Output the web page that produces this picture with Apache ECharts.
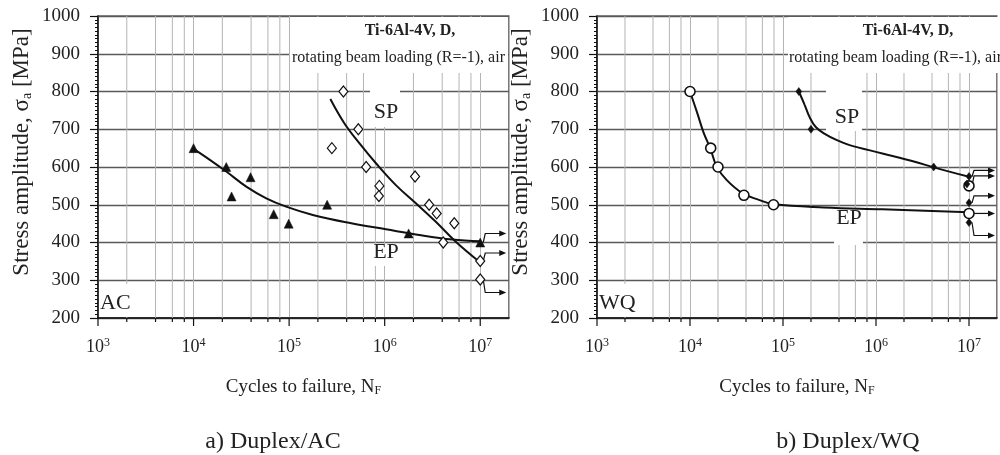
<!DOCTYPE html>
<html><head><meta charset="utf-8">
<script src="https://cdn.jsdelivr.net/npm/echarts@6/dist/echarts.min.js"></script>
<style>html,body{margin:0;padding:0;background:#fff}#c{width:1000px;height:455px}</style>
</head><body><div id="c"></div>
<script>
// ---------- data ----------
// a) Duplex/AC
const acEpN = [1e4, 2.2e4, 2.5e4, 3.95e4, 6.9e4, 9.9e4, 2.5e5, 1.78e6, 1e7];
const acEpS = [650, 600, 522, 573, 475, 450, 500, 424, 400];
const acSpN = [2.8e5, 3.7e5, 5.3e5, 6.4e5, 8.8e5, 8.7e5, 2.08e6, 2.92e6, 3.5e6, 5.35e6, 4.1e6, 1e7, 1e7];
const acSpS = [650, 800, 700, 600, 550, 523, 575, 500, 477, 451, 400, 351, 302];
const acEpFitN = [1e4, 1.48e4, 2.2e4, 3.56e4, 5.77e4, 9.3e4, 1.77e5, 4.47e5, 1.03e6, 2.3e6, 5.1e6, 1e7];
const acEpFitS = [648, 619, 588, 548, 517, 495, 473, 451, 435, 420, 408, 403];
const acSpFitN = [2.7e5, 3.78e5, 5.43e5, 8.1e5, 1.31e6, 2.12e6, 3.43e6, 5.55e6, 1e7];
const acSpFitS = [780, 716, 663, 610, 552, 504, 455, 402, 347];
const acRunoutN = [1e7, 1e7, 1e7];
const acRunoutS = [400, 351, 302];
// b) Duplex/WQ
const wqEpN = [1e4, 1.67e4, 2.0e4, 3.8e4, 7.9e4, 1e7, 1e7];
const wqEpS = [800, 650, 600, 525, 500, 477, 550];
const wqSpN = [1.48e5, 2.0e5, 4.17e6, 1e7, 9.5e6, 1e7, 1e7];
const wqSpS = [800, 700, 600, 575, 555, 505, 453];
const wqEpFitN = [1e4, 1.2e4, 1.41e4, 1.65e4, 1.94e4, 2.47e4, 3.7e4, 5.5e4, 7.9e4, 2.75e5, 1.17e6, 1e7];
const wqEpFitS = [800, 742, 689, 650, 601, 566, 530, 513, 502, 493, 488, 480];
const wqSpFitN = [1.48e5, 1.7e5, 1.95e5, 2.25e5, 2.75e5, 3.8e5, 5.2e5, 1.17e6, 2.61e6, 4.17e6, 1e7];
const wqSpFitS = [800, 766, 730, 706, 689, 671, 658, 636, 614, 599, 574];
const wqRunoutN = [1e7, 1e7, 1e7, 1e7, 1e7];
const wqRunoutS = [575, 550, 505, 477, 453];
// axes
const xMin = 1e3, xMax = 2e7;
const yMin = 200, yMax = 1000, yStep = 100;
const xDecades = [1e3, 1e4, 1e5, 1e6, 1e7];
const xMinorSteps = [2, 4, 6, 8];

// ---------- styling / drawing ----------
const FONT = '"Liberation Serif","Times New Roman",serif';
const TXT = '#222';
const acArrowBends = [-9, -8, 13];
const wqArrowBends = [-6, -10, -7, 0, 13];

const zip = (a, b) => a.map((v, i) => [v, b[i]]);
const isPow10 = v => { const l = Math.log10(v); return Math.abs(l - Math.round(l)) < 1e-6; };

const tickData = [];
xDecades.forEach(d => {
  tickData.push([d, 1]);
  if (d < 1e7) xMinorSteps.forEach(s => tickData.push([d * s, 0]));
});

function renderTicks(params, api) {
  const v = api.value(0), major = api.value(1);
  const top = api.coord([v, yMax]), bot = api.coord([v, yMin]);
  const ch = [];
  if (!major) ch.push({type: 'line', shape: {x1: top[0], y1: top[1], x2: bot[0], y2: bot[1]}, style: {stroke: '#b4b4b4', lineWidth: 1}});
  ch.push({type: 'line', shape: {x1: bot[0], y1: bot[1], x2: bot[0], y2: bot[1] + (major ? 8 : 4)}, style: {stroke: '#111', lineWidth: 1.2}});
  return {type: 'group', children: ch};
}
function arrowRenderer(bends) {
  return function (params, api) {
    const p = api.coord([api.value(0), api.value(1)]);
    const dy = bends[params.dataIndex];
    const x = p[0], y = p[1], yy = y + dy;
    return {type: 'group', children: [
      {type: 'polyline', shape: {points: [[x + 3, y], [x + 5, yy], [x + 20, yy]]}, style: {stroke: '#111', lineWidth: 1.2, fill: null}},
      {type: 'polygon', shape: {points: [[x + 19, yy - 3], [x + 26, yy], [x + 19, yy + 3]]}, style: {fill: '#111'}}
    ]};
  };
}

function xAxis(i) {
  return {
    type: 'log', logBase: 10, min: xMin, max: xMax, gridIndex: i,
    axisLine: {onZero: false, lineStyle: {color: '#111', width: 1.5}},
    axisTick: {show: false},
    splitLine: {show: true, lineStyle: {color: '#b4b4b4', width: 1}},
    axisLabel: {
      margin: 19, color: TXT,
      formatter: v => isPow10(v) ? '{b|10}{s|' + Math.round(Math.log10(v)) + '}' : '',
      rich: {b: {fontSize: 18, fontFamily: FONT, color: TXT}, s: {fontSize: 12, fontFamily: FONT, color: TXT, padding: [0, 0, 9, 0]}}
    },
    name: 'Cycles to failure, N{sub|F}', nameLocation: 'middle', nameGap: 59,
    nameTextStyle: {fontSize: 19, fontFamily: FONT, color: TXT,
      rich: {sub: {fontSize: 12, fontFamily: FONT, color: TXT, padding: [8, 0, 0, 0]}}}
  };
}
function yAxis(i) {
  return {
    type: 'value', min: yMin, max: yMax, interval: yStep, gridIndex: i,
    axisLine: {show: true, lineStyle: {color: '#111', width: 1.5}},
    axisTick: {show: true, length: 8, lineStyle: {color: '#111', width: 1.2}},
    minorTick: {show: true, splitNumber: 10, length: 3, lineStyle: {color: '#111', width: 1}},
    splitLine: {show: true, lineStyle: {color: '#5a5a5a', width: 1.3}},
    axisLabel: {fontSize: 19, fontFamily: FONT, color: TXT, margin: 18, formatter: v => String(v)},
    name: 'Stress amplitude, σ{sub|a} [MPa]', nameLocation: 'middle', nameGap: 64,
    nameTextStyle: {fontSize: 23, fontFamily: FONT, color: TXT, padding: [0, 0, 0, 30],
      rich: {sub: {fontSize: 14, fontFamily: FONT, color: TXT, padding: [10, 0, 0, 0]}}}
  };
}
const fitLine = (i, data) => ({type: 'line', xAxisIndex: i, yAxisIndex: i, data, smooth: 0.4, showSymbol: false,
  lineStyle: {color: '#111', width: 2}, z: 3, silent: true});
const pts = (i, data, symbol, size, fill, bw) => ({type: 'scatter', xAxisIndex: i, yAxisIndex: i, data, symbol, symbolSize: size,
  itemStyle: {color: fill, borderColor: '#111', borderWidth: bw, opacity: 1}, z: 4, silent: true});

const box = (x, y, w, h) => ({type: 'rect', shape: {x, y, width: w, height: h}, style: {fill: '#fff'}, z: 2, silent: true});
const txt = (x, y, text, size, align, bold) => ({type: 'text', x, y, z: 6, silent: true,
  style: {text, font: (bold ? 'bold ' : '') + size + 'px ' + FONT, fill: TXT, align: align, verticalAlign: 'middle'}});

const option = {
  animation: false,
  grid: [
    {left: 98, top: 16, width: 411, height: 302, show: true, borderColor: '#222', borderWidth: 1.2},
    {left: 597, top: 16, width: 411, height: 302, show: true, borderColor: '#222', borderWidth: 1.2}
  ],
  xAxis: [xAxis(0), xAxis(1)],
  yAxis: [yAxis(0), yAxis(1)],
  series: [
    {type: 'custom', xAxisIndex: 0, yAxisIndex: 0, data: tickData, renderItem: renderTicks, z: 1, silent: true, clip: false},
    {type: 'custom', xAxisIndex: 1, yAxisIndex: 1, data: tickData, renderItem: renderTicks, z: 1, silent: true, clip: false},
    fitLine(0, zip(acEpFitN, acEpFitS)),
    fitLine(0, zip(acSpFitN, acSpFitS)),
    fitLine(1, zip(wqEpFitN, wqEpFitS)),
    fitLine(1, zip(wqSpFitN, wqSpFitS)),
    {type: 'custom', xAxisIndex: 0, yAxisIndex: 0, data: zip(acRunoutN, acRunoutS), renderItem: arrowRenderer(acArrowBends), z: 4, silent: true, clip: false},
    {type: 'custom', xAxisIndex: 1, yAxisIndex: 1, data: zip(wqRunoutN, wqRunoutS), renderItem: arrowRenderer(wqArrowBends), z: 4, silent: true, clip: false},
    pts(0, zip(acEpN, acEpS), 'triangle', 9, '#111', 0.5),
    pts(0, zip(acSpN, acSpS), 'diamond', [9, 11], '#fff', 1.2),
    pts(1, zip(wqEpN, wqEpS), 'circle', 10, '#fff', 1.6),
    pts(1, zip(wqSpN, wqSpS), 'diamond', [6, 8], '#111', 0.5)
  ],
  graphic: {elements: [
    box(290, 17, 218, 56), box(370, 73, 30, 54), box(372, 244, 28, 22), box(99, 284, 48, 33),
    box(788, 17, 212, 56), box(826, 73, 36, 58), box(834, 209, 29, 36), box(598, 284, 47, 33),
    txt(410, 31, 'Ti-6Al-4V, D,', 16, 'center', true),
    txt(292, 58, 'rotating beam loading (R=-1), air', 16, 'left'),
    txt(386, 112, 'SP', 22, 'center'),
    txt(386, 252, 'EP', 22, 'center'),
    txt(100, 303, 'AC', 22, 'left'),
    txt(908, 31, 'Ti-6Al-4V, D,', 16, 'center', true),
    txt(789, 58, 'rotating beam loading (R=-1), air', 16, 'left'),
    txt(847, 117, 'SP', 22, 'center'),
    txt(849, 218, 'EP', 22, 'center'),
    txt(599, 303, 'WQ', 22, 'left'),
    txt(273, 442, 'a) Duplex/AC', 24, 'center'),
    txt(848, 442, 'b) Duplex/WQ', 24, 'center')
  ]}
};
const chart = echarts.init(document.getElementById('c'), null, {renderer: 'canvas'});
chart.setOption(option);
</script></body></html>
